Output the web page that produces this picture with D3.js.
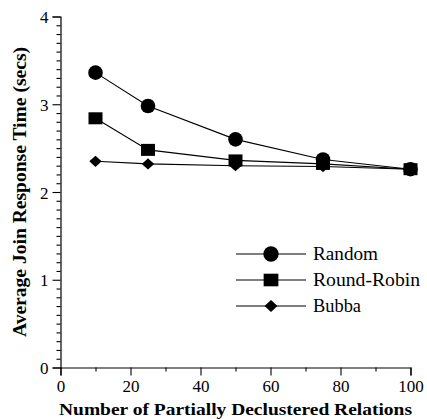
<!DOCTYPE html>
<html>
<head>
<meta charset="utf-8">
<script src="https://cdn.jsdelivr.net/npm/d3@7"></script>
<style>
  html, body { margin: 0; padding: 0; background: #fff; }
  svg { display: block; }
</style>
</head>
<body>
<svg id="chart" width="427" height="419"></svg>
<script>
// Number of partially declustered relations (x positions)
const relations = [10, 25, 50, 75, 100];

// Average join response time in seconds, one array per declustering scheme
const randomTimes = [3.36, 2.98, 2.60, 2.37, 2.26];
const roundRobinTimes = [2.84, 2.48, 2.36, 2.32, 2.26];
const bubbaTimes = [2.35, 2.32, 2.30, 2.29, 2.26];

const seriesNames = ["Random", "Round-Robin", "Bubba"];
const seriesShapes = ["circle", "square", "diamond"];

const xTicks = [0, 20, 40, 60, 80, 100];
const yTicks = [0, 1, 2, 3, 4];

const xTitle = "Number of Partially Declustered Relations";
const yTitle = "Average Join Response Time (secs)";

const FONT = "Liberation Serif, Liberation Sans, Arial, sans-serif";

const svg = d3.select("#chart");

const x = d3.scaleLinear().domain([0, 100]).range([60.5, 410.5]);
const y = d3.scaleLinear().domain([0, 4]).range([367.5, 16.5]);

// Axes: major ticks labelled, minor ticks unlabelled and shorter
const xAxis = svg.append("g").attr("transform", `translate(0,${y(0)})`);
xAxis.call(d3.axisBottom(x).tickValues(xTicks).tickSize(8).tickPadding(0).tickFormat(d3.format("d")));
xAxis.append("g").call(d3.axisBottom(x).tickValues(d3.range(10, 100, 20)).tickSize(4).tickFormat(""))
  .select(".domain").remove();

const yAxis = svg.append("g").attr("transform", `translate(${x(0)},0)`);
yAxis.call(d3.axisLeft(y).tickValues(yTicks).tickSize(8).tickPadding(5).tickFormat(d3.format("d")));
yAxis.append("g").call(d3.axisLeft(y).tickValues(d3.range(0, 4.0001, 0.1).filter(v => Math.abs(v - Math.round(v)) > 1e-6)).tickSize(4).tickFormat(""))
  .select(".domain").remove();

svg.selectAll(".domain").attr("stroke", "#000").attr("stroke-width", 1.2);
svg.selectAll(".tick line").attr("stroke", "#000").attr("stroke-width", 1.1);
svg.selectAll("g").attr("font-family", FONT).attr("font-size", 17);
svg.selectAll(".tick text").attr("fill", "#000");
// x labels: baseline about 24px below the axis line
xAxis.selectAll(".tick text").attr("y", 24.5).attr("dy", null);
// y labels: vertically centred on their tick
yAxis.selectAll(".tick text").attr("x", -12).attr("dy", "0.36em");

// Axis titles
svg.append("text")
  .attr("x", 235.5).attr("y", 415)
  .attr("text-anchor", "middle")
  .attr("font-family", FONT).attr("font-size", 17).attr("font-weight", "bold")
  .attr("textLength", 353).attr("lengthAdjust", "spacingAndGlyphs")
  .text(xTitle);

svg.append("text")
  .attr("transform", `translate(25.5,192) rotate(-90)`)
  .attr("text-anchor", "middle")
  .attr("font-family", FONT).attr("font-size", 18).attr("font-weight", "bold")
  .attr("textLength", 290).attr("lengthAdjust", "spacingAndGlyphs")
  .text(yTitle);

// Marker drawing helper
function drawMarker(g, shape, cx, cy, big) {
  const s = big ? 1.05 : 1;
  if (shape === "circle") {
    g.append("circle").attr("cx", cx).attr("cy", cy).attr("r", 7.3 * s).attr("fill", "#000");
  } else if (shape === "square") {
    const w = 14 * s, h = 12 * s;
    g.append("rect").attr("x", cx - w / 2).attr("y", cy - h / 2).attr("width", w).attr("height", h).attr("fill", "#000");
  } else {
    const w = 6.2 * s, h = 5.6 * s;
    g.append("path").attr("d", `M${cx - w},${cy} L${cx},${cy - h} L${cx + w},${cy} L${cx},${cy + h} Z`).attr("fill", "#000");
  }
}

const seriesValues = [randomTimes, roundRobinTimes, bubbaTimes];
const line = d3.line().x(d => x(d[0])).y(d => y(d[1]));

const plot = svg.append("g");
// Lines first, then markers on top
seriesValues.forEach(vals => {
  plot.append("path")
    .attr("d", line(relations.map((r, i) => [r, vals[i]])))
    .attr("fill", "none").attr("stroke", "#000").attr("stroke-width", 1.1);
});
[2, 0, 1].forEach(k => {
  relations.forEach((r, i) => drawMarker(plot, seriesShapes[k], x(r), y(seriesValues[k][i]), false));
});

// Legend
const legendWidths = [65, 107, 48];
const legend = svg.append("g");
seriesNames.forEach((name, i) => {
  const ly = 254 + i * 26;
  legend.append("line").attr("x1", 236).attr("x2", 306).attr("y1", ly).attr("y2", ly)
    .attr("stroke", "#000").attr("stroke-width", 1.1);
  drawMarker(legend, seriesShapes[i], 271, ly, true);
  legend.append("text").attr("x", 313).attr("y", ly + 6.4)
    .attr("font-family", FONT).attr("font-size", 18).attr("fill", "#000")
    .attr("textLength", legendWidths[i]).attr("lengthAdjust", "spacingAndGlyphs")
    .text(name);
});
</script>
</body>
</html>
